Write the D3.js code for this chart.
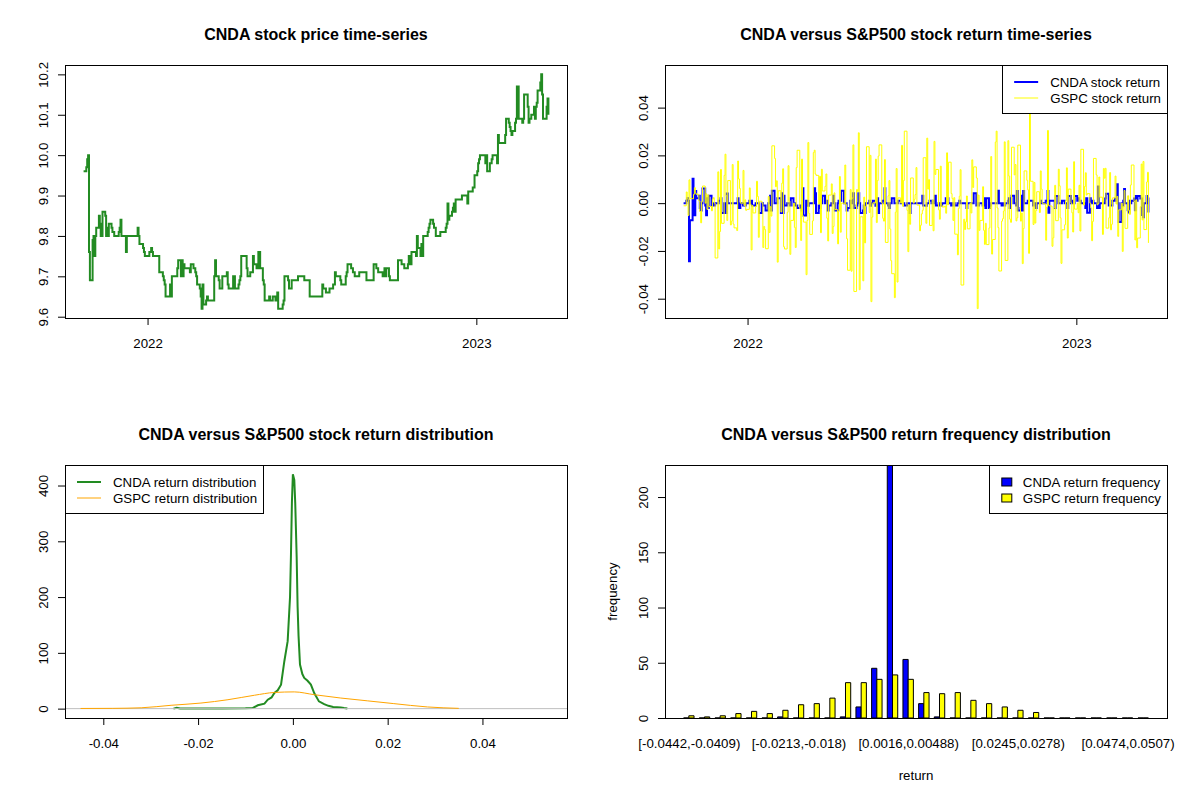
<!DOCTYPE html>
<html>
<head>
<meta charset="utf-8">
<title>CNDA versus S&amp;P500</title>
<script src="https://cdn.jsdelivr.net/npm/d3@7"></script>
<style>
  body { margin: 0; background: #ffffff; }
  svg { display: block; }
</style>
</head>
<body>
<svg id="chart" width="1200" height="800"></svg>
<script>
var startDate = "2021-10-22";

// CNDA close, one value per weekday from startDate
var cndaPrice = [
  9.96, 9.97, 9.99, 10.00, 9.76, 9.69, 9.79, 9.80, 9.75, 9.80,
  9.82, 9.85, 9.83, 9.80, 9.80, 9.86, 9.85, 9.80, 9.82, 9.80,
  9.83, 9.82, 9.81, 9.81, 9.80, 9.80, 9.80, 9.81, 9.82, 9.84,
  9.80, 9.80, 9.80, 9.76, 9.80, 9.80, 9.80, 9.80, 9.80, 9.80,
  9.80, 9.80, 9.82, 9.80, 9.78, 9.78, 9.77, 9.76, 9.75, 9.75,
  9.75, 9.76, 9.76, 9.77, 9.76, 9.75, 9.75, 9.75, 9.75, 9.75,
  9.71, 9.71, 9.70, 9.69, 9.68, 9.65, 9.65, 9.65, 9.68, 9.65,
  9.70, 9.70, 9.70, 9.70, 9.72, 9.74, 9.70, 9.74, 9.70, 9.73,
  9.72, 9.72, 9.72, 9.72, 9.71, 9.73, 9.72, 9.72, 9.71, 9.70,
  9.68, 9.67, 9.65, 9.62, 9.68, 9.63, 9.64, 9.65, 9.64, 9.64,
  9.64, 9.64, 9.64, 9.70, 9.74, 9.70, 9.69, 9.67, 9.67, 9.67,
  9.70, 9.70, 9.70, 9.71, 9.68, 9.67, 9.67, 9.67, 9.70, 9.70,
  9.67, 9.67, 9.68, 9.69, 9.70, 9.75, 9.75, 9.75, 9.75, 9.72,
  9.70, 9.71, 9.71, 9.71, 9.75, 9.73, 9.72, 9.72, 9.76, 9.76,
  9.72, 9.69, 9.68, 9.64, 9.64, 9.64, 9.65, 9.64, 9.64, 9.64,
  9.65, 9.64, 9.64, 9.66, 9.62, 9.62, 9.62, 9.63, 9.64, 9.70,
  9.70, 9.69, 9.67, 9.67, 9.67, 9.69, 9.69, 9.69, 9.69, 9.69,
  9.70, 9.70, 9.70, 9.70, 9.70, 9.69, 9.69, 9.69, 9.69, 9.65,
  9.65, 9.65, 9.65, 9.65, 9.65, 9.65, 9.65, 9.65, 9.65, 9.68,
  9.67, 9.66, 9.66, 9.66, 9.66, 9.67, 9.67, 9.68, 9.68, 9.71,
  9.70, 9.70, 9.70, 9.69, 9.68, 9.68, 9.68, 9.70, 9.71, 9.73,
  9.73, 9.72, 9.72, 9.71, 9.71, 9.70, 9.70, 9.70, 9.71, 9.71,
  9.71, 9.71, 9.71, 9.71, 9.69, 9.69, 9.69, 9.69, 9.69, 9.69,
  9.73, 9.72, 9.72, 9.71, 9.71, 9.71, 9.70, 9.70, 9.72, 9.70,
  9.72, 9.70, 9.69, 9.69, 9.69, 9.69, 9.69, 9.69, 9.69, 9.74,
  9.74, 9.73, 9.73, 9.73, 9.72, 9.72, 9.73, 9.75, 9.73, 9.73,
  9.76, 9.76, 9.76, 9.75, 9.80, 9.77, 9.75, 9.78, 9.75, 9.80,
  9.80, 9.80, 9.81, 9.82, 9.83, 9.84, 9.83, 9.82, 9.82, 9.80,
  9.80, 9.80, 9.81, 9.81, 9.81, 9.81, 9.82, 9.83, 9.88, 9.84,
  9.85, 9.86, 9.87, 9.88, 9.86, 9.89, 9.89, 9.89, 9.89, 9.89,
  9.90, 9.90, 9.90, 9.90, 9.88, 9.91, 9.91, 9.91, 9.92, 9.92,
  9.95, 9.96, 9.98, 9.99, 10.00, 10.00, 10.00, 10.00, 9.98, 10.00,
  9.96, 9.98, 9.98, 9.99, 10.00, 10.00, 10.00, 9.98, 10.05, 10.03,
  10.03, 10.03, 10.03, 10.03, 10.05, 10.09, 10.08, 10.07, 10.06, 10.05,
  10.06, 10.08, 10.09, 10.17, 10.17, 10.09, 10.09, 10.08, 10.09, 10.15,
  10.15, 10.12, 10.08, 10.09, 10.09, 10.10, 10.12, 10.09, 10.12, 10.13,
  10.16, 10.18, 10.20, 10.15, 10.09, 10.09, 10.12, 10.14, 10.10
];

// S&P500 daily change in percent, same weekdays
var gspcPct = [
  -0.11, 0.47, 0.18, -0.51, 0.98, 0.19,
  0.18, 0.37, 0.65, 0.42, 0.37, 0.09, -0.35, -0.82, 0.06, 0.72, 0.00, 0.39, -0.26, 0.34, -0.14, -0.32, 0.17, 0.23, 0, -2.27, 1.32, -1.90,
  -1.18, 1.42, -0.84, 1.17, 2.07, 0.31, -0.72, 0.95, -0.91, -0.75, 1.63, -0.87, -1.03, -1.14, 1.78, 1.02, 0.62, 0, 1.38, -0.10, 0.14, -0.30, -0.26,
  0.64, -0.06, -1.94, -0.10, -0.41, -0.14, 0.92, 0.28, -1.42, 0.08, 0, -1.84, -0.97, -1.10, -1.89, 0.28, -1.22, -0.15, -0.54, 2.43, 1.89,
  0.69, 0.94, -2.44, 0.52, -0.37, 0.84, 1.45, -1.81, -1.90, -0.38, 1.58, 0.09, -2.12, -0.72, 0, -1.01, -1.84, 1.50, 2.24, -0.24,
  -1.55, 1.86, -0.53, -0.79, -2.95, -0.72, 2.57, -0.43, -1.30, -0.74, 2.14, 2.24, 1.23, 1.17, -0.04, 1.13, -1.23, 1.43, 0.51, 0.71, 1.23, -0.63, -1.57,
  0.34, 0.81, -1.26, -0.97, 0.43, -0.27, -1.69, -0.34, 1.12, -1.21, 0, -0.02, 1.61, -0.06, -1.48, -2.77, 0.57, -2.81, 0.21, 2.47, -3.63,
  0.57, 0.48, 2.99, -3.56, -0.57, -3.20, 0.25, -1.65, -0.13, 2.39, -0.39, 2.02, -4.04, -0.58, 0.01, 1.86, -0.81, 0.95, 1.99, 2.47, 0, -0.63,
  -0.75, 1.84, -1.63, 0.31, 0.95, -1.08, -2.38, -2.91, -3.88, -0.38, 1.46, -3.25, 0.22, 0, 2.45, -0.13, 0.95, 3.06, -0.30, -2.01, -0.07, -0.88,
  1.06, 0, 0.16, 0.36, 1.50, -0.08, -1.15, -0.92, -0.45, -0.30, 1.92, -0.84, 2.76, 0.59, 0.99, -0.93, 0.13, -1.15, 2.62, 1.21, 1.42,
  -0.28, -0.67, 1.56, -0.08, -0.16, -0.12, -0.42, 2.13, -0.07, 1.73, 0.40, 0.19, -0.72, 0.23, -1.29, -2.14, -0.22, 0.29, 1.41, -3.37, -0.67, -1.10, -0.78,
  0.30, -1.07, 0, -0.41, 1.83, 0.66, 1.53, 1.06, -4.32, 0.34, -1.13, -0.72, 0.69, -1.13, -1.71, -0.84, -1.72, -1.03, -0.21, 1.97, -2.11, -1.51,
  2.59, 3.06, -0.20, -1.02, -2.80, -0.75, -0.65, -0.33, 2.60, -2.37, 2.65, 1.14, -0.67, -0.80, 2.37, 1.19, 1.63, -0.74, -0.61, 2.46, -0.75,
  -0.41, -2.50, -1.06, 1.36, 0.96, 0.56, -2.08, 5.54, 0.92, -0.89, 0.87, -0.83, -0.31, 0.48, -0.39, 1.36, 0.59, 0, -0.03, -1.54, -0.16, 3.09,
  -0.09, -0.12, -1.79, -1.44, -0.19, 0.75, -0.73, 1.43, 0.73, -0.61, -2.49, -1.11, -0.90, 0.10, 1.49, -1.45, 0.59, 0, -0.40, -1.20, 1.75, -0.25,
  0, -0.40, 0.75, -1.16, 2.28, -0.08, 0.70, 1.28, 0.34, 0.40, 0, -0.20, -1.56, -0.76, 1.89, 1.19, -0.07, -0.02, 1.10, 0.25, -1.30, 1.46,
  1.05, 1.47, -1.04, -0.61, 1.29, -1.11, -0.88, 0.22, 1.14, -0.03, 0.28, -1.38, -0.28, 0, -2.00, -0.16, 0.53, -1.05, 0.31, -0.30,
  -0.47, 0.76, 1.61, 0.07, -1.53, 0.14, -1.85, -1.45, -0.15, 1.65, -0.70, 1.76, -1.10, 0.89, 1.30, -1.65
];

// kernel density curves
var cndaDensX = [-0.0252, -0.0245, -0.0238, -0.020, -0.015, -0.0100, -0.0085, -0.0074, -0.0060, -0.0053, -0.0045, -0.0039,
  -0.0032, -0.0025, -0.0018, -0.0011, -0.0006, -0.0004, -0.0002, 0.0000, 0.0003, 0.0005, 0.0008, 0.0010, 0.0012, 0.0015,
  0.0020, 0.0024, 0.0031, 0.0038, 0.0045, 0.0055, 0.0066, 0.0075, 0.0085, 0.0101, 0.0108, 0.0115];
var cndaDensY = [0, 1.5, 0.3, 0.2, 0.2, 0.5, 1, 6, 9, 16, 20, 28,
  33, 43, 85, 121, 200, 277, 371, 420, 410, 368, 272, 182, 130, 79,
  62, 55, 50, 43, 28, 13, 8, 5, 3, 2, 1, 0.2];
var gspcDensX = [-0.0448, -0.038, -0.032, -0.0257, -0.0194, -0.0137, -0.0081, -0.0039, 0.0003, 0.0045, 0.0101, 0.0157, 0.0213, 0.0284, 0.0350];
var gspcDensY = [0.3, 0.5, 1.5, 6, 10, 16, 24, 29, 30, 25, 19, 14, 9, 3, 0.5];

// histogram counts, 30 bins
var cndaFreq = [0, 0, 0, 0, 0, 0, 1, 0, 0, 0, 1, 10, 45, 229, 53, 13, 1, 0, 0, 0, 0, 0, 0, 0, 0, 0, 0, 0, 0, 0];
var gspcFreq = [2, 1, 2, 4, 6, 4, 7, 12, 13, 18, 32, 32, 35, 39, 35, 23, 22, 23, 16, 13, 10, 7, 5, 0, 0, 0, 0, 0, 0, 0];
var binTickIdx = [0, 7, 14, 21, 28];
var binTickLabels = ["[-0.0442,-0.0409)", "[-0.0213,-0.018)", "[0.0016,0.00488)", "[0.0245,0.0278)", "[0.0474,0.0507)"];

var font = '"Liberation Sans", Arial, Helvetica, sans-serif';
var svg = d3.select("#chart").attr("font-family", font);
svg.append("rect").attr("width", 1200).attr("height", 800).attr("fill", "#ffffff");
var defs = svg.append("defs");

var start = d3.utcParse("%Y-%m-%d")(startDate);
var dates = d3.utcDay.range(start, d3.utcDay.offset(start, 800))
    .filter(d => d.getUTCDay() !== 0 && d.getUTCDay() !== 6)
    .slice(0, cndaPrice.length);

var cndaRet = cndaPrice.map((p, i) => i === 0 ? 0 : Math.log(p / cndaPrice[i - 1]));
var gspcRet = gspcPct.map(v => Math.log(1 + v / 100));

function pad(ext) {
    var a = +ext[0], b = +ext[1], d = (b - a) * 0.04;
    return [a - d, b + d];
}

function panel(px, py, id) {
    var p = { left: px + 65, right: px + 567, top: py + 65, bottom: py + 318, cx: px + 316 };
    defs.append("clipPath").attr("id", id)
        .append("rect")
        .attr("x", p.left).attr("y", p.top)
        .attr("width", p.right - p.left).attr("height", p.bottom - p.top);
    p.clip = "url(#" + id + ")";
    return p;
}

function frame(p, txt) {
    svg.append("rect")
        .attr("x", p.left).attr("y", p.top)
        .attr("width", p.right - p.left).attr("height", p.bottom - p.top)
        .attr("fill", "none").attr("stroke", "#000").attr("stroke-width", 1)
        .attr("shape-rendering", "crispEdges");
    svg.append("text")
        .attr("x", p.cx).attr("y", p.top - 25)
        .attr("text-anchor", "middle")
        .attr("font-weight", "bold").attr("font-size", 16)
        .text(txt);
}

function xAxis(p, scale, ticks, fmt, size, padding) {
    var g = svg.append("g")
        .attr("transform", "translate(0," + p.bottom + ")")
        .call(d3.axisBottom(scale).tickValues(ticks).tickFormat(fmt).tickSize(size).tickPadding(padding));
    g.select(".domain").remove();
    g.attr("font-family", font).attr("font-size", 13.3);
    return g;
}

function yAxis(p, scale, ticks, fmt) {
    var g = svg.append("g")
        .attr("transform", "translate(" + p.left + ",0)")
        .call(d3.axisLeft(scale).tickValues(ticks).tickFormat(fmt).tickSize(7));
    g.select(".domain").remove();
    g.attr("font-family", font).attr("font-size", 13.3);
    g.selectAll(".tick text")
        .attr("transform", "rotate(-90)")
        .attr("x", 0).attr("y", -17).attr("dy", null)
        .attr("text-anchor", "middle");
    return g;
}

function legend(p, items, alignRight, kind) {
    var g = svg.append("g").attr("font-size", 13.3);
    var texts = items.map(it => g.append("text").text(it.label));
    var tw = d3.max(texts, t => t.node().getComputedTextLength());
    var keyW = kind === "fill" ? 10 : 24;
    var gap = kind === "fill" ? 11 : 12;
    var w = 12 + keyW + gap + tw + 6;
    var bx = alignRight ? p.right - w : p.left;
    g.insert("rect", ":first-child")
        .attr("x", bx).attr("y", p.top)
        .attr("width", w).attr("height", 48)
        .attr("fill", "#fff").attr("stroke", "#000")
        .attr("shape-rendering", "crispEdges");
    items.forEach((it, i) => {
        var cy = p.top + 17 + 16 * i;
        if (kind === "fill") {
            g.append("rect")
                .attr("x", bx + 12).attr("y", cy - 4)
                .attr("width", 10).attr("height", 8)
                .attr("fill", it.color).attr("stroke", "#000");
        } else {
            g.append("line")
                .attr("x1", bx + 12).attr("x2", bx + 12 + keyW)
                .attr("y1", cy).attr("y2", cy)
                .attr("stroke", it.color).attr("stroke-width", it.width);
        }
        texts[i].attr("x", bx + 12 + keyW + gap).attr("y", cy + 4.7);
    });
}

var pTL = panel(0, 0, "clipTL"),
    pTR = panel(600, 0, "clipTR"),
    pBL = panel(0, 400, "clipBL"),
    pBR = panel(600, 400, "clipBR");

// ---- top left: price
var xTime = d3.scaleUtc().domain(pad(d3.extent(dates))).range([pTL.left, pTL.right]);
var yPrice = d3.scaleLinear().domain(pad(d3.extent(cndaPrice))).range([pTL.bottom, pTL.top]);
var years = d3.utcYear.range(xTime.domain()[0], xTime.domain()[1]);

svg.append("path")
    .datum(cndaPrice)
    .attr("clip-path", pTL.clip)
    .attr("fill", "none")
    .attr("stroke", "#228B22")
    .attr("stroke-width", 2)
    .attr("d", d3.line().curve(d3.curveStepAfter).x((d, i) => xTime(dates[i])).y(d => yPrice(d)));

frame(pTL, "CNDA stock price time-series");
xAxis(pTL, xTime, years, d3.utcFormat("%Y"), 7, 13.5);
yAxis(pTL, yPrice, yPrice.ticks(6), d => d.toFixed(1));

// ---- top right: returns
var xTime2 = d3.scaleUtc().domain(xTime.domain()).range([pTR.left, pTR.right]);
var retExt = pad(d3.extent(cndaRet.concat(gspcRet)));
var yRet = d3.scaleLinear().domain(retExt).range([pTR.bottom, pTR.top]);

var retLine = d3.line().curve(d3.curveStepAfter).x((d, i) => xTime2(dates[i])).y(d => yRet(d));
svg.append("path")
    .datum(cndaRet)
    .attr("clip-path", pTR.clip)
    .attr("fill", "none").attr("stroke", "#0000FF").attr("stroke-width", 2)
    .attr("d", retLine);
svg.append("path")
    .datum(gspcRet)
    .attr("clip-path", pTR.clip)
    .attr("fill", "none").attr("stroke", "#FFFF00").attr("stroke-width", 1)
    .attr("d", retLine);

frame(pTR, "CNDA versus S&P500 stock return time-series");
xAxis(pTR, xTime2, years, d3.utcFormat("%Y"), 7, 13.5);
yAxis(pTR, yRet, yRet.ticks(5), d => d.toFixed(2));
legend(pTR, [
    { label: "CNDA stock return", color: "#0000FF", width: 2 },
    { label: "GSPC stock return", color: "#FFFF00", width: 1 }
], true, "line");

// ---- bottom left: densities
var xDens = d3.scaleLinear().domain(retExt).range([pBL.left, pBL.right]);
var yDens = d3.scaleLinear().domain(pad([0, d3.max(cndaDensY)])).range([pBL.bottom, pBL.top]);

svg.append("path")
    .datum(cndaDensX)
    .attr("clip-path", pBL.clip)
    .attr("fill", "none").attr("stroke", "#228B22").attr("stroke-width", 2)
    .attr("d", d3.line().x(d => xDens(d)).y((d, i) => yDens(cndaDensY[i])));
svg.append("line")
    .attr("x1", pBL.left).attr("x2", pBL.right)
    .attr("y1", yDens(0)).attr("y2", yDens(0))
    .attr("stroke", "#BEBEBE").attr("stroke-width", 1);
svg.append("path")
    .datum(gspcDensX)
    .attr("clip-path", pBL.clip)
    .attr("fill", "none").attr("stroke", "#FFA500").attr("stroke-width", 1)
    .attr("d", d3.line().curve(d3.curveMonotoneX).x(d => xDens(d)).y((d, i) => yDens(gspcDensY[i])));

frame(pBL, "CNDA versus S&P500 stock return distribution");
xAxis(pBL, xDens, xDens.ticks(5), d => d.toFixed(2), 7, 13.5);
yAxis(pBL, yDens, yDens.ticks(5), d => d);
legend(pBL, [
    { label: "CNDA return distribution", color: "#228B22", width: 2 },
    { label: "GSPC return distribution", color: "#FFA500", width: 1 }
], false, "line");

// ---- bottom right: grouped histogram
var nBins = cndaFreq.length;
var xBar = d3.scaleLinear().domain(pad([1, 3 * nBins])).range([pBR.left, pBR.right]);
var yBar = d3.scaleLinear().domain([0, d3.max(cndaFreq.concat(gspcFreq))]).range([pBR.bottom, pBR.top]);

function barPath(u, v) {
    var x0 = xBar(u), x1 = xBar(u + 1), y0 = yBar(0), y1 = yBar(v);
    return "M" + x0 + "," + y0 + "H" + x1 + "V" + y1 + "H" + x0 + "Z";
}

var bars = svg.append("g").attr("clip-path", pBR.clip);
bars.selectAll("path.cnda")
    .data(cndaFreq)
    .join("path")
    .attr("class", "cnda")
    .attr("d", (d, i) => barPath(1 + 3 * i, d))
    .attr("fill", "#0000FF").attr("stroke", "#000").attr("stroke-width", 1);
bars.selectAll("path.gspc")
    .data(gspcFreq)
    .join("path")
    .attr("class", "gspc")
    .attr("d", (d, i) => barPath(2 + 3 * i, d))
    .attr("fill", "#FFFF00").attr("stroke", "#000").attr("stroke-width", 1);

frame(pBR, "CNDA versus S&P500 return frequency distribution");
xAxis(pBR, xBar, binTickIdx.map(g => 2 + 3 * g), (d, i) => binTickLabels[i], 0, 20.5);
yAxis(pBR, yBar, yBar.ticks(5), d => d);
legend(pBR, [
    { label: "CNDA return frequency", color: "#0000FF" },
    { label: "GSPC return frequency", color: "#FFFF00" }
], true, "fill");

svg.append("text")
    .attr("transform", "translate(617," + ((pBR.top + pBR.bottom) / 2) + ") rotate(-90)")
    .attr("text-anchor", "middle").attr("font-size", 13.3)
    .text("frequency");
svg.append("text")
    .attr("x", pBR.cx).attr("y", 780)
    .attr("text-anchor", "middle").attr("font-size", 13.3)
    .text("return");
</script>
</body>
</html>
